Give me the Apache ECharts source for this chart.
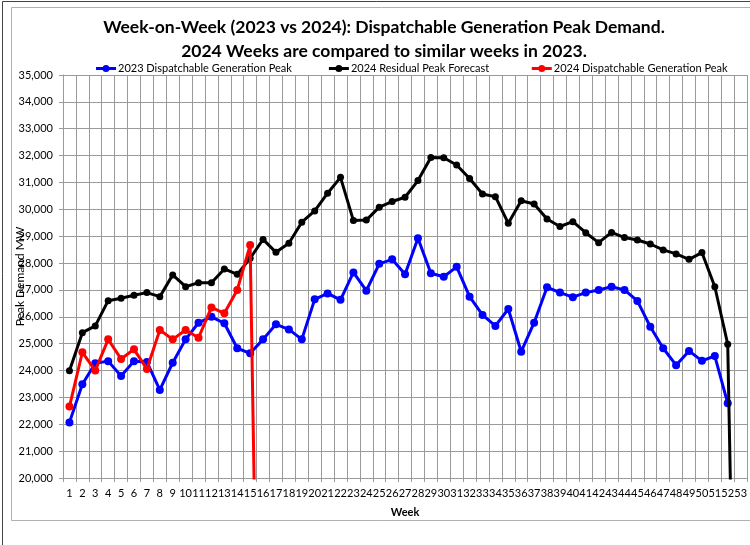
<!DOCTYPE html>
<html>
<head>
<meta charset="utf-8">
<script src="https://cdn.jsdelivr.net/npm/echarts@6/dist/echarts.min.js"></script>
<style>
html,body{margin:0;padding:0;background:#fff;}
#c{width:750px;height:545px;}
</style>
</head>
<body>
<div id="c"></div>
<script>
var weeks = ['1','2','3','4','5','6','7','8','9','10','11','12','13','14','15','16','17','18','19','20','21','22','23','24','25','26','27','28','29','30','31','32','33','34','35','36','37','38','39','40','41','42','43','44','45','46','47','48','49','50','51','52','53'];

var dispatch2023 = [22070,23490,24270,24350,23800,24350,24320,23280,24290,25160,25780,26000,25760,24830,24640,25160,25720,25530,25160,26650,26870,26630,27650,26970,27970,28140,27580,28920,27620,27490,27860,26750,26070,25660,26290,24700,25780,27100,26900,26730,26900,27000,27120,27000,26590,25630,24830,24200,24730,24360,24540,22780,null];

var residual2024 = [23990,25410,25660,26600,26690,26800,26900,26750,27560,27120,27270,27270,27780,27580,28180,28880,28400,28740,29520,29940,30600,31190,29580,29600,30080,30290,30450,31070,31930,31920,31650,31150,30570,30470,29480,30320,30200,29640,29360,29540,29130,28760,29140,28950,28860,28710,28490,28340,28140,28390,27120,24980,0];

var dispatch2024 = [22660,24680,24000,25160,24430,24790,24060,25510,25160,25510,25220,26350,26130,27000,28670,0,null,null,null,null,null,null,null,null,null,null,null,null,null,null,null,null,null,null,null,null,null,null,null,null,null,null,null,null,null,null,null,null,null,null,null,null,null];

var seriesNames = ['2023 Dispatchable Generation Peak','2024 Residual Peak Forecast','2024 Dispatchable Generation Peak'];
var titleLines = ['Week-on-Week (2023 vs 2024): Dispatchable Generation Peak Demand.','2024 Weeks are compared to similar weeks in 2023.'];

var FONT = 'Lato';
var gridColor = '#9a9a9a';
var legendIcon = 'path://M0,3 L20,3 L20,6 L0,6 Z M6.5,4.5 A3.5,3.5 0 1 1 13.5,4.5 A3.5,3.5 0 1 1 6.5,4.5 Z';
var legendPadSpaces = '\u00a0\u00a0';

var chart = echarts.init(document.getElementById('c'), null, {renderer:'canvas'});
chart.setOption({
  animation:false,
  backgroundColor:'#fff',
  textStyle:{fontFamily:FONT},
  graphic:[
    {type:'rect', shape:{x:2.5,y:1.5,width:760,height:560}, style:{fill:'none',stroke:'#444',lineWidth:1}, silent:true, z:-10},
    {type:'rect', shape:{x:11.5,y:7.5,width:760,height:513}, style:{fill:'none',stroke:'#b0b0b0',lineWidth:1}, silent:true, z:-10}
  ],
  title:{
    text: titleLines.join('\n'),
    left:384, top:15, textAlign:'center', padding:0,
    textStyle:{fontFamily:FONT,fontWeight:'bold',fontSize:17.5,lineHeight:24,color:'#000'}
  },
  legend:{
    left:96, top:63, padding:0,
    itemWidth:20, itemHeight:7, itemGap:37,
    textStyle:{fontFamily:FONT,fontSize:11,color:'#000',padding:[0,0,0,-3]},
    formatter:function(name){ return name === seriesNames[1] ? name + legendPadSpaces : name; },
    data:seriesNames.map(function(n){ return {name:n, icon:legendIcon}; })
  },
  grid:{left:63, right:1, top:75, bottom:67, containLabel:false},
  xAxis:{
    type:'category', data:weeks, boundaryGap:true,
    name:'Week', nameLocation:'middle', nameGap:29, nameMoveOverlap:false,
    nameTextStyle:{fontFamily:FONT,fontWeight:'bold',fontSize:11,color:'#000'},
    axisLine:{show:true,lineStyle:{color:gridColor,width:1}},
    axisTick:{show:true,length:4,alignWithLabel:false,lineStyle:{color:gridColor}},
    axisLabel:{interval:0,hideOverlap:false,margin:10,fontFamily:FONT,fontSize:11,color:'#000'},
    splitLine:{show:true,interval:0,lineStyle:{color:gridColor,width:1}}
  },
  yAxis:{
    type:'value', min:20000, max:35000, interval:1000,
    name:'Peak Demand MW', nameLocation:'middle', nameGap:37, nameRotate:90,
    nameMoveOverlap:false,
    nameTextStyle:{fontFamily:FONT,fontSize:12,color:'#000'},
    axisLine:{show:true,lineStyle:{color:gridColor,width:1}},
    axisTick:{show:true,length:4,lineStyle:{color:gridColor}},
    axisLabel:{margin:10,fontFamily:FONT,fontSize:11,color:'#000',
      formatter:function(v){return v.toLocaleString('en-US');}},
    splitLine:{show:true,lineStyle:{color:gridColor,width:1}}
  },
  series:[
    {name:seriesNames[0], type:'line', data:dispatch2023, clip:true,
      symbol:'circle', symbolSize:8, showAllSymbol:true,
      itemStyle:{color:'#0000ff'}, lineStyle:{color:'#0000ff',width:3}, z:2},
    {name:seriesNames[1], type:'line', data:residual2024, clip:true,
      symbol:'circle', symbolSize:7, showAllSymbol:true,
      itemStyle:{color:'#000'}, lineStyle:{color:'#000',width:3}, z:3},
    {name:seriesNames[2], type:'line', data:dispatch2024, clip:true,
      symbol:'circle', symbolSize:8, showAllSymbol:true,
      itemStyle:{color:'#ff0000'}, lineStyle:{color:'#ff0000',width:3}, z:4}
  ]
});
</script>
</body>
</html>
